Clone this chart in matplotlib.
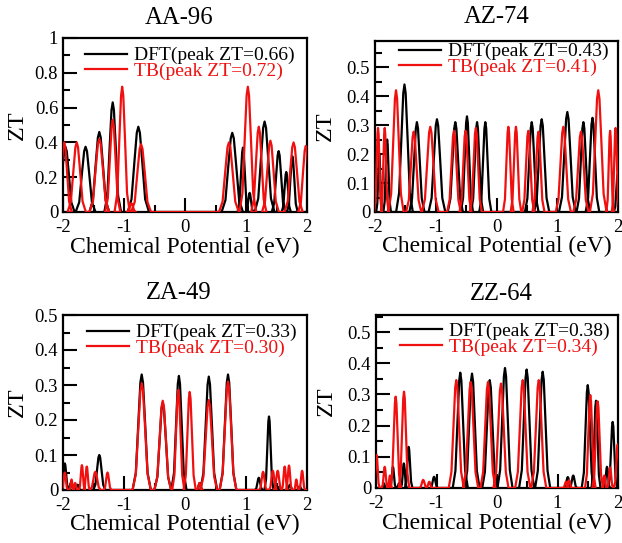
import matplotlib
matplotlib.use("Agg")
import matplotlib.pyplot as plt
from matplotlib.ticker import MultipleLocator, FuncFormatter
from matplotlib.lines import Line2D

plt.rcParams['font.family'] = ['Liberation Serif', 'DejaVu Serif']
plt.rcParams['axes.unicode_minus'] = False

# ---- data: peak energies (eV), peak ZT, half base widths (eV) ----
# AA-96
aa_dft_mu = [-1.96, -1.63, -1.405, -1.185, -0.765, 0.775, 0.95, 1.06, 1.305, 1.535, 1.66, 1.76]
aa_dft_zt = [0.375, 0.375, 0.46, 0.63, 0.49, 0.455, 0.37, 0.11, 0.52, 0.35, 0.23, 0.32]
aa_dft_hw = [0.12, 0.13, 0.13, 0.11, 0.14, 0.14, 0.07, 0.05, 0.13, 0.09, 0.06, 0.07]
aa_tb_mu = [-1.98, -1.775, -1.405, -1.185, -1.03, -0.88, -0.72, 0.72, 1.03, 1.21, 1.40, 1.78, 1.98]
aa_tb_zt = [0.40, 0.40, 0.42, 0.53, 0.72, 0.05, 0.39, 0.40, 0.72, 0.49, 0.41, 0.40, 0.38]
aa_tb_hw = [0.10, 0.12, 0.13, 0.10, 0.10, 0.06, 0.13, 0.13, 0.11, 0.10, 0.11, 0.12, 0.10]

# AZ-74
az_dft_mu = [-1.93, -1.80, -1.515, -1.31, -0.98, -0.678, -0.486, -0.32, -0.184,
             0.58, 0.744, 1.166, 1.43, 1.58, 1.995]
az_dft_zt = [0.20, 0.25, 0.44, 0.31, 0.32, 0.31, 0.33, 0.31, 0.31,
             0.31, 0.32, 0.345, 0.31, 0.325, 0.13]
az_dft_hw = [0.04, 0.05, 0.11, 0.10, 0.11, 0.10, 0.08, 0.08, 0.08,
             0.09, 0.10, 0.11, 0.09, 0.09, 0.05]
az_tb_mu = [-1.95, -1.84, -1.654, -1.363, -1.09, -0.70, -0.51, -0.34, 0.195, 0.32,
            0.523, 0.69, 1.10, 1.39, 1.675, 1.87, 1.96]
az_tb_zt = [0.29, 0.29, 0.42, 0.277, 0.294, 0.28, 0.28, 0.29, 0.294, 0.294,
            0.28, 0.277, 0.294, 0.277, 0.42, 0.28, 0.29]
az_tb_hw = [0.05, 0.05, 0.10, 0.10, 0.11, 0.09, 0.08, 0.08, 0.07, 0.07,
            0.08, 0.08, 0.10, 0.10, 0.11, 0.05, 0.05]

# ZA-49
za_dft_mu = [-1.97, -1.87, -1.76, -1.405, -0.71, -0.365, -0.10, 0.24, 0.39, 0.705,
             1.21, 1.377, 1.55, 1.72, 1.88]
za_dft_zt = [0.076, 0.02, 0.015, 0.10, 0.33, 0.25, 0.326, 0.02, 0.324, 0.33,
             0.035, 0.21, 0.01, 0.015, 0.01]
za_dft_hw = [0.05, 0.04, 0.04, 0.08, 0.12, 0.11, 0.10, 0.04, 0.11, 0.11,
             0.05, 0.06, 0.04, 0.04, 0.04]
za_tb_mu = [-1.97, -1.86, -1.80, -1.69, -1.61, -1.47, -1.27, -0.71, -0.365, -0.11,
            0.077, 0.24, 0.39, 0.705, 1.28, 1.44, 1.52, 1.634, 1.705, 1.825, 1.92]
za_tb_zt = [0.05, 0.03, 0.02, 0.071, 0.067, 0.052, 0.05, 0.305, 0.255, 0.286,
            0.28, 0.02, 0.257, 0.31, 0.052, 0.055, 0.055, 0.067, 0.07, 0.03, 0.055]
za_tb_hw = [0.04, 0.03, 0.03, 0.04, 0.04, 0.07, 0.05, 0.12, 0.11, 0.08,
            0.08, 0.04, 0.11, 0.11, 0.05, 0.05, 0.05, 0.04, 0.04, 0.03, 0.04]

# ZZ-64
zz_dft_mu = [-1.87, -1.72, -1.62, -1.54, -1.46, -1.04, -0.607, -0.413, -0.12, 0.132,
             0.49, 0.755, 1.17, 1.26, 1.50, 1.636, 1.818, 1.912]
zz_dft_zt = [0.015, 0.068, 0.015, 0.079, 0.132, 0.036, 0.37, 0.367, 0.346, 0.385,
             0.38, 0.373, 0.035, 0.04, 0.33, 0.28, 0.068, 0.212]
zz_dft_hw = [0.03, 0.04, 0.03, 0.04, 0.05, 0.05, 0.10, 0.10, 0.10, 0.10,
             0.10, 0.10, 0.05, 0.05, 0.08, 0.06, 0.04, 0.06]
zz_tb_mu = [-1.99, -1.856, -1.77, -1.675, -1.537, -1.22, -1.12, -0.673, -0.435, -0.149,
            0.066, 0.425, 0.69, 1.14, 1.19, 1.542, 1.664, 1.774, 1.87, 1.995]
zz_tb_zt = [0.106, 0.068, 0.04, 0.293, 0.309, 0.026, 0.02, 0.346, 0.34, 0.34,
            0.335, 0.346, 0.346, 0.02, 0.025, 0.298, 0.278, 0.04, 0.066, 0.14]
zz_tb_hw = [0.04, 0.04, 0.03, 0.07, 0.07, 0.05, 0.04, 0.10, 0.10, 0.10,
            0.10, 0.10, 0.10, 0.04, 0.04, 0.07, 0.07, 0.03, 0.04, 0.05]

titles = ["AA-96", "AZ-74", "ZA-49", "ZZ-64"]
dft_peak_labels = ["0.66", "0.43", "0.33", "0.38"]
tb_peak_labels = ["0.72", "0.41", "0.30", "0.34"]
x_tick_labels = ["-2", "-1", "0", "1", "2"]

# bell-like outline drawn for each resonance (relative offsets / relative heights)
shape_dx = [-1.25, -0.8, -0.45, -0.18, 0.0, 0.18, 0.45, 0.8, 1.25]
shape_dy = [0.0, 0.15, 0.6, 0.93, 1.0, 0.93, 0.6, 0.15, 0.0]

RED = '#f01010'
W, H = 622, 543
fig = plt.figure(figsize=(W / 100, H / 100), dpi=100)


def rect(left, right, top, bottom):
    return [left / W, 1 - bottom / H, (right - left) / W, (bottom - top) / H]


panels = [
    dict(r=rect(63, 307, 38, 212), ymax=1.0, ymaj=0.2, ymin=0.1,
         dft=(aa_dft_mu, aa_dft_zt, aa_dft_hw), tb=(aa_tb_mu, aa_tb_zt, aa_tb_hw),
         tx=0.475, ty=1.08, lx=0.09, ly=0.95, ylx=-0.189, xly=-0.235),
    dict(r=rect(375, 618, 41, 212), ymax=0.59, ymaj=0.1, ymin=0.05,
         dft=(az_dft_mu, az_dft_zt, az_dft_hw), tb=(az_tb_mu, az_tb_zt, az_tb_hw),
         tx=0.5, ty=1.105, lx=0.099, ly=0.99, ylx=-0.206, xly=-0.235),
    dict(r=rect(63, 307, 315, 490), ymax=0.5, ymaj=0.1, ymin=0.05,
         dft=(za_dft_mu, za_dft_zt, za_dft_hw), tb=(za_tb_mu, za_tb_zt, za_tb_hw),
         tx=0.473, ty=1.09, lx=0.0996, ly=0.95, ylx=-0.189, xly=-0.228),
    dict(r=rect(376, 618, 315, 488), ymax=0.555, ymaj=0.1, ymin=0.05,
         dft=(zz_dft_mu, zz_dft_zt, zz_dft_hw), tb=(zz_tb_mu, zz_tb_zt, zz_tb_hw),
         tx=0.516, ty=1.087, lx=0.099, ly=0.957, ylx=-0.207, xly=-0.235),
]


def draw_curve(ax, mu, zt, hw, color, z):
    xs, ys = [], []
    for c, h, w in sorted(zip(mu, zt, hw)):
        for dx, dy in zip(shape_dx, shape_dy):
            xs.append(c + dx * w)
            ys.append(h * dy)
    ax.plot([-2.3] + xs + [2.3], [0] + ys + [0], color=color, lw=1.6,
            solid_joinstyle='round', zorder=z)


for i, p in enumerate(panels):
    ax = fig.add_axes(p['r'])
    draw_curve(ax, *p['dft'], color='black', z=2)
    draw_curve(ax, *p['tb'], color=RED, z=3)

    ax.set_xlim(-2, 2)
    ax.set_ylim(0, p['ymax'])
    ax.xaxis.set_minor_locator(MultipleLocator(0.5))
    ax.set_xticks([-2, -1, 0, 1, 2])
    ax.set_xticklabels(x_tick_labels)
    ax.yaxis.set_major_locator(MultipleLocator(p['ymaj']))
    ax.yaxis.set_minor_locator(MultipleLocator(p['ymin']))
    ax.yaxis.set_major_formatter(FuncFormatter(lambda v, pos: f"{round(v, 3):g}"))
    ax.tick_params(which='major', direction='in', length=10, width=1.5,
                   labelsize=13.5, top=False, right=False)
    ax.tick_params(which='minor', direction='in', length=5, width=1.5,
                   top=False, right=False)
    ax.tick_params(axis='x', which='major', pad=5)
    ax.tick_params(axis='y', which='major', pad=3.5)
    for s in ax.spines.values():
        s.set_linewidth(1.6)

    ax.set_title(titles[i], fontsize=17.8, x=p['tx'], y=p['ty'], va='baseline', pad=0)
    ax.set_xlabel("Chemical Potential (eV)", fontsize=17)
    ax.xaxis.set_label_coords(0.5, p['xly'])
    ax.xaxis.label.set_verticalalignment('baseline')
    ax.set_ylabel("ZT", fontsize=17.5)
    ax.yaxis.set_label_coords(p['ylx'], 0.5)
    ax.yaxis.label.set_verticalalignment('center')

    handles = [Line2D([], [], color='black', lw=1.6),
               Line2D([], [], color=RED, lw=1.6)]
    labels = [f"DFT(peak ZT={dft_peak_labels[i]})", f"TB(peak ZT={tb_peak_labels[i]})"]
    ax.legend(handles, labels, loc='upper left', bbox_to_anchor=(p['lx'], p['ly']),
              frameon=False, fontsize=14, handlelength=2.15, handletextpad=0.36,
              labelspacing=-0.1, borderpad=0, borderaxespad=0,
              labelcolor=['black', RED])

fig.savefig("out.png", dpi=100)
